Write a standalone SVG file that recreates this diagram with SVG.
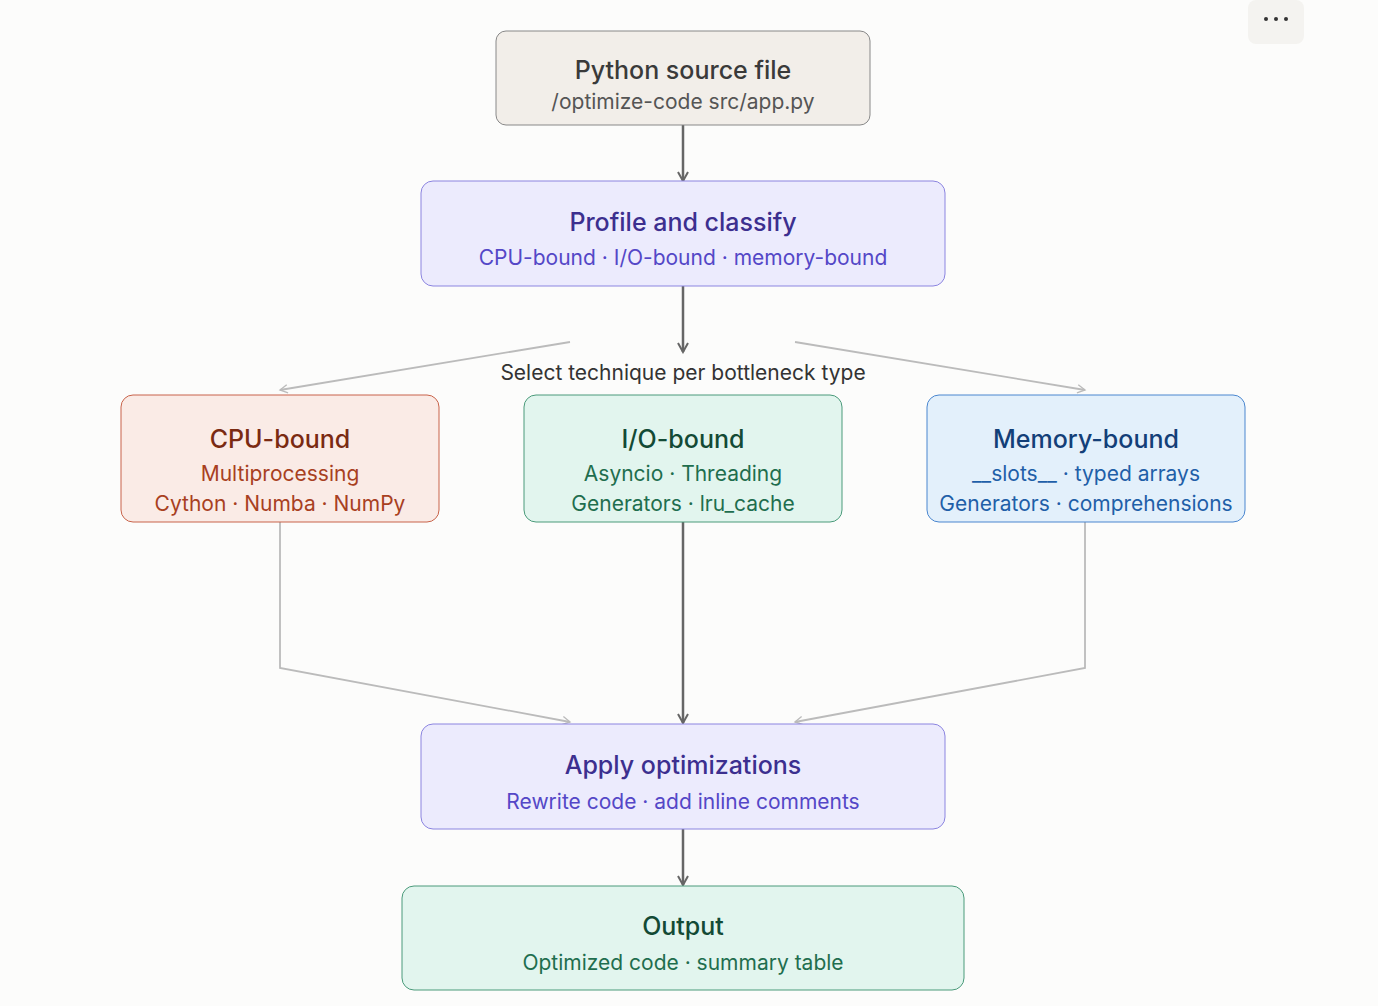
<svg xmlns="http://www.w3.org/2000/svg" width="1378" height="1006" viewBox="0 0 1378 1006">
<style>
text{font-family:Inter,"Noto Sans",sans-serif;text-anchor:middle}
.t{font-size:25px;font-weight:500}
.s{font-size:21px}
.dark{stroke:#666;stroke-width:2.5;fill:none}
.lite{stroke:#bbb;stroke-width:1.8;fill:none}
</style>
<defs>
<marker id="ad" viewBox="0 0 12 12" refX="10" refY="6" markerWidth="12" markerHeight="12" markerUnits="userSpaceOnUse" orient="auto"><path d="M1,1 L10,6 L1,11" fill="none" stroke="#666" stroke-width="2"/></marker>
<marker id="al" viewBox="0 0 12 12" refX="10" refY="6" markerWidth="10" markerHeight="10" markerUnits="userSpaceOnUse" orient="auto"><path d="M1,1 L10,6 L1,11" fill="none" stroke="#bbb" stroke-width="1.6"/></marker>
</defs>
<rect width="1378" height="1006" fill="#fcfcfb"/>
<rect x="1248" y="0" width="56" height="44" rx="8" fill="#f4f3f0"/>
<g fill="#333"><circle cx="1266" cy="19" r="2"/><circle cx="1276" cy="19" r="2"/><circle cx="1286" cy="19" r="2"/></g>
<g id="connectors">
<path class="dark" d="M683,125 V181" marker-end="url(#ad)"/>
<path class="dark" d="M683,286 V352" marker-end="url(#ad)"/>
<path class="lite" d="M570,342 L280,390" marker-end="url(#al)"/>
<path class="lite" d="M795,342 L1085,390" marker-end="url(#al)"/>
<path class="lite" d="M280,522 V668 L570,722" marker-end="url(#al)"/>
<path class="lite" d="M1085,522 V668 L795,722" marker-end="url(#al)"/>
<path class="dark" d="M683,522 V723" marker-end="url(#ad)"/>
<path class="dark" d="M683,829 V885" marker-end="url(#ad)"/>
<rect x="484" y="359" width="398" height="27" fill="#fcfcfb"/>
<text x="683" y="380" style="font-size:21px" fill="#333">Select technique per bottleneck type</text>
</g>
<g id="source"><rect x="496" y="31" width="374" height="94" rx="10" fill="#f2eee9" stroke="#888"/>
<text class="t" x="683" y="79" fill="#3a3a3a">Python source file</text><text class="s" x="683" y="109" fill="#555">/optimize-code src/app.py</text></g>
<g id="profile"><rect x="421" y="181" width="524" height="105" rx="12" fill="#ecebfd" stroke="#8b84e0"/>
<text class="t" x="683" y="231" fill="#3c2f8f">Profile and classify</text><text class="s" x="683" y="265" fill="#5447c7">CPU-bound · I/O-bound · memory-bound</text></g>
<g id="cpu"><rect x="121" y="395" width="318" height="127" rx="12" fill="#faebe6" stroke="#c8634a"/>
<text class="t" x="280" y="448" fill="#7a2a12">CPU-bound</text><text class="s" x="280" y="481" fill="#a8401f">Multiprocessing</text><text class="s" x="280" y="511" fill="#a8401f">Cython · Numba · NumPy</text></g>
<g id="io"><rect x="524" y="395" width="318" height="127" rx="12" fill="#e2f5ee" stroke="#4a9a7a"/>
<text class="t" x="683" y="448" fill="#134a35">I/O-bound</text><text class="s" x="683" y="481" fill="#1f6e4e">Asyncio · Threading</text><text class="s" x="683" y="511" fill="#1f6e4e">Generators · lru_cache</text></g>
<g id="mem"><rect x="927" y="395" width="318" height="127" rx="12" fill="#e3f0fb" stroke="#4a86cf"/>
<text class="t" x="1086" y="448" fill="#133f78">Memory-bound</text><text class="s" x="1086" y="481" fill="#1f5fa8">__slots__ · typed arrays</text><text class="s" x="1086" y="511" fill="#1f5fa8">Generators · comprehensions</text></g>
<g id="apply"><rect x="421" y="724" width="524" height="105" rx="12" fill="#ecebfd" stroke="#8b84e0"/>
<text class="t" x="683" y="774" fill="#3c2f8f">Apply optimizations</text><text class="s" x="683" y="809" fill="#5447c7">Rewrite code · add inline comments</text></g>
<g id="output"><rect x="402" y="886" width="562" height="104" rx="12" fill="#e2f5ee" stroke="#4a9a7a"/>
<text class="t" x="683" y="935" fill="#134a35">Output</text><text class="s" x="683" y="970" fill="#1f6e4e">Optimized code · summary table</text></g>
</svg>
